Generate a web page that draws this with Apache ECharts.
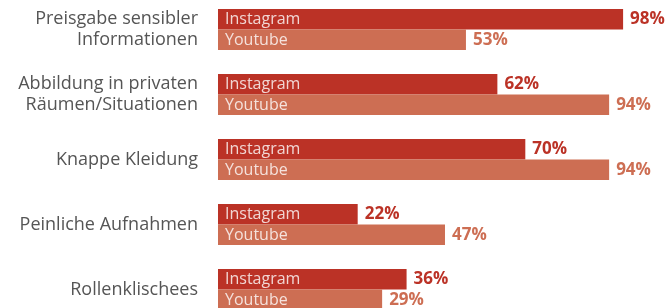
<!DOCTYPE html>
<html>
<head>
<meta charset="utf-8">
<script src="https://cdn.jsdelivr.net/npm/echarts@6/dist/echarts.min.js"></script>
<style>
  html, body { margin: 0; padding: 0; background: #fff; overflow: hidden; }
  /* the last group runs past the bottom edge in the original */
  #chart { width: 665px; height: 325px; margin-top: -3px; }
</style>
</head>
<body>
<div id="chart"></div>
<script>
var categories = [
    'Preisgabe sensibler\nInformationen',
    'Abbildung in privaten\nRäumen/Situationen',
    'Knappe Kleidung',
    'Peinliche Aufnahmen',
    'Rollenklischees'
];
var instagram = [98, 62, 70, 22, 36];
var youtube = [53, 94, 94, 47, 29];

var colInsta = '#bb3226';
var colYt = '#cd6e53';
var font = '"Open Sans", "Noto Sans", sans-serif';
var axisMin = -18;

// name labels sit at the start of each bar
function nameSeries(name, offsetY) {
    return {
        type: 'scatter',
        symbolSize: 0,
        silent: true,
        z: 5,
        data: categories.map(function (c, i) { return [axisMin, i]; }),
        label: {
            show: true,
            position: 'right',
            distance: 7,
            offset: [0, offsetY],
            formatter: name,
            color: '#fff',
            fontSize: 16,
            fontFamily: font
        }
    };
}

function barSeries(name, values, color) {
    return {
        name: name,
        type: 'bar',
        barWidth: 20.5,
        barGap: '0%',
        data: values,
        itemStyle: {color: color},
        label: {
            show: true,
            position: 'right',
            distance: 7,
            formatter: '{c}%',
            color: color,
            fontSize: 17,
            fontWeight: 'bold',
            fontFamily: font
        }
    };
}

var chart = echarts.init(document.getElementById('chart'));
chart.setOption({
    animation: false,
    grid: {left: 218, right: 0, top: 0, bottom: 0},
    xAxis: {
        type: 'value',
        min: axisMin,
        max: 110,
        startValue: axisMin,
        show: false
    },
    yAxis: {
        type: 'category',
        inverse: true,
        data: categories,
        axisLine: {show: false},
        axisTick: {show: false},
        splitLine: {show: false},
        axisLabel: {
            margin: 20,
            fontSize: 18,
            lineHeight: 21,
            color: '#555',
            fontFamily: font
        }
    },
    series: [
        barSeries('Instagram', instagram, colInsta),
        barSeries('Youtube', youtube, colYt),
        nameSeries('Instagram', -10),
        nameSeries('Youtube', 10.5)
    ]
});
</script>
</body>
</html>
